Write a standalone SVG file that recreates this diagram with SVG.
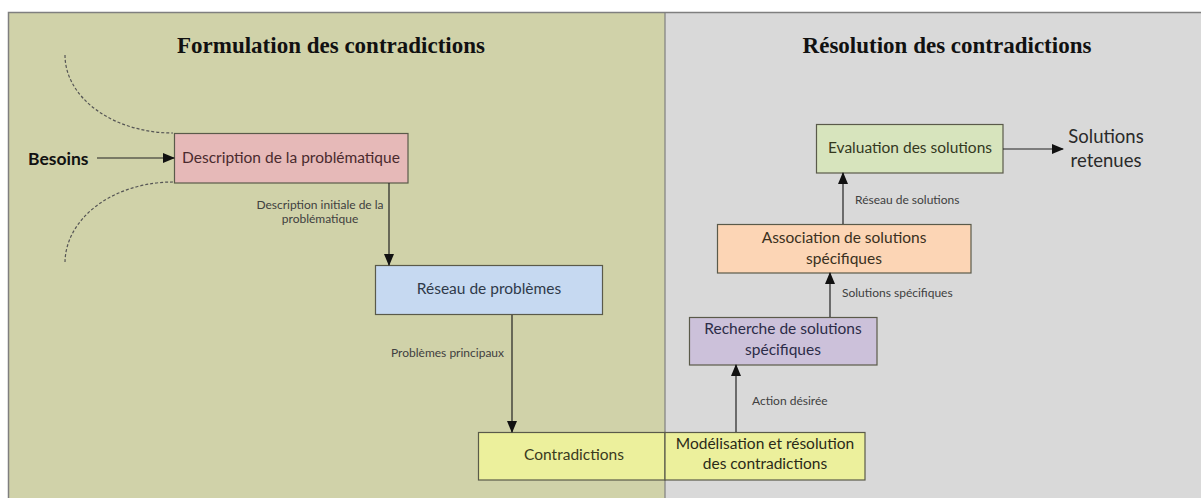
<svg xmlns="http://www.w3.org/2000/svg" width="1201" height="498" viewBox="0 0 1201 498">
<defs>
<marker id="ah" markerWidth="12" markerHeight="10" refX="11" refY="5" orient="auto" markerUnits="userSpaceOnUse">
<path d="M0,0 L12,5 L0,10 Z" fill="#111"/>
</marker>
<style>
.box{stroke:#5a5a4a;stroke-width:1.2}
.bt{font-family:Lato,"Open Sans",sans-serif;font-size:15.5px;text-anchor:middle}
.lbl{font-family:Lato,"Open Sans",sans-serif;font-size:12px;fill:#404040}
.title{font-family:"Liberation Serif",serif;font-weight:bold;font-size:23px;fill:#111;text-anchor:middle}
.con{stroke:#222;stroke-width:1.2;fill:none}
.dash{stroke:#555;stroke-width:1.2;fill:none;stroke-dasharray:3,2}
</style>
</defs>
<g id="background">
<rect x="8.5" y="12.5" width="656.5" height="500" fill="#d0d2a9"/>
<rect x="665" y="12.5" width="545" height="500" fill="#d9d9d9"/>
<path d="M8.5,512 V12.5 H1210" fill="none" stroke="#7f7f7f" stroke-width="1.5"/>
<line x1="665" y1="12.5" x2="665" y2="512" stroke="#7f7f7f" stroke-width="1.2"/>
<text class="title" x="331" y="53">Formulation des contradictions</text>
<text class="title" x="947" y="53">Résolution des contradictions</text>
</g>
<g id="boundary">
<path class="dash" d="M65,55 A108,78 0 0 0 173,133"/>
<path class="dash" d="M173,182 A108,81 0 0 0 65,263"/>
</g>
<g id="besoins">
<text x="28" y="165" font-family="Lato,'Open Sans',sans-serif" font-weight="bold" font-size="17.5" fill="#111">Besoins</text>
</g>
<g id="description">
<rect class="box" x="174.5" y="133.5" width="233.5" height="49.5" fill="#e6b9b8"/>
<text class="bt" x="291" y="163" fill="#4a2a2e">Description de la problématique</text>
</g>
<g id="reseau-problemes">
<rect class="box" x="375.5" y="265.5" width="227" height="49" fill="#c6d9f1"/>
<text class="bt" x="489" y="294" fill="#2f3a4a">Réseau de problèmes</text>
</g>
<g id="contradictions">
<rect class="box" x="478.5" y="432.5" width="186.5" height="47.5" fill="#ecf09c"/>
<text class="bt" x="574" y="460" fill="#3a3a20">Contradictions</text>
</g>
<g id="modelisation">
<rect class="box" x="665" y="432.5" width="200" height="47.5" fill="#ecf09c"/>
<text class="bt" x="765" y="449" fill="#2a2a18">Modélisation et résolution</text>
<text class="bt" x="765" y="469" fill="#2a2a18">des contradictions</text>
</g>
<g id="recherche">
<rect class="box" x="689.5" y="317.5" width="187.5" height="47.5" fill="#ccc1da"/>
<text class="bt" x="783" y="334" fill="#2c2c48">Recherche de solutions</text>
<text class="bt" x="783" y="355" fill="#2c2c48">spécifiques</text>
</g>
<g id="association">
<rect class="box" x="717.5" y="224.5" width="253.5" height="48.5" fill="#fcd5b5"/>
<text class="bt" x="844" y="243" fill="#3a3020">Association de solutions</text>
<text class="bt" x="844" y="264" fill="#3a3020">spécifiques</text>
</g>
<g id="evaluation">
<rect class="box" x="816.5" y="124.5" width="186.5" height="48.5" fill="#d7e4bd"/>
<text class="bt" x="910" y="153" fill="#34381e">Evaluation des solutions</text>
</g>
<g id="solutions-retenues">
<text x="1106" y="143" font-family="Lato,'Open Sans',sans-serif" font-size="18.5" fill="#2a2a2a" text-anchor="middle">Solutions</text>
<text x="1106" y="167" font-family="Lato,'Open Sans',sans-serif" font-size="18.5" fill="#2a2a2a" text-anchor="middle">retenues</text>
</g>
<g id="connectors">
<line class="con" x1="97" y1="158" x2="174" y2="158" marker-end="url(#ah)"/>
<line class="con" x1="389" y1="183" x2="389" y2="265" marker-end="url(#ah)"/>
<line class="con" x1="512" y1="315" x2="512" y2="432" marker-end="url(#ah)"/>
<line class="con" x1="736" y1="432" x2="736" y2="365" marker-end="url(#ah)"/>
<line class="con" x1="830" y1="317" x2="830" y2="273" marker-end="url(#ah)"/>
<line class="con" x1="843" y1="224" x2="843" y2="173" marker-end="url(#ah)"/>
<line class="con" x1="1003" y1="149" x2="1063" y2="149" marker-end="url(#ah)"/>
<text class="lbl" x="320" y="209" text-anchor="middle">Description initiale de la</text>
<text class="lbl" x="320" y="223" text-anchor="middle">problématique</text>
<text class="lbl" x="391" y="357">Problèmes principaux</text>
<text class="lbl" x="752" y="405">Action désirée</text>
<text class="lbl" x="842" y="297">Solutions spécifiques</text>
<text class="lbl" x="855" y="204">Réseau de solutions</text>
</g>
</svg>
